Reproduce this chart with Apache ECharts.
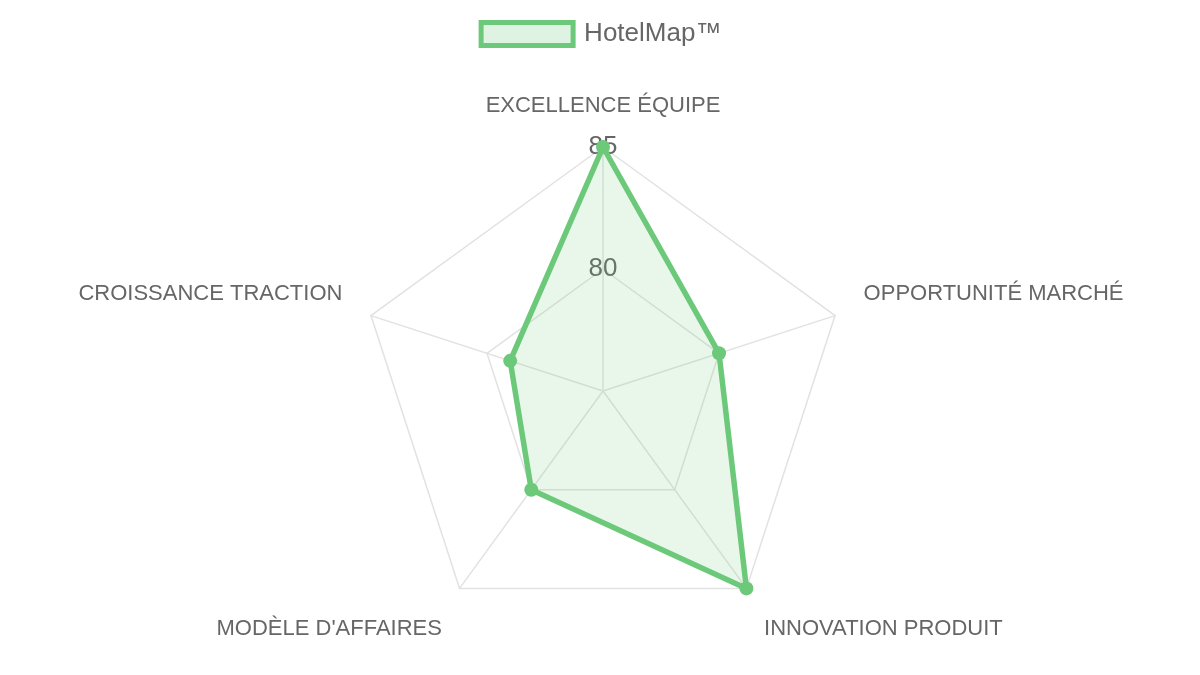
<!DOCTYPE html>
<html>
<head>
<meta charset="utf-8">
<script src="https://cdn.jsdelivr.net/npm/echarts@6/dist/echarts.min.js"></script>
<style>
html,body{margin:0;padding:0;background:#fff;}
#main{width:1200px;height:675px;}
</style>
</head>
<body>
<div id="main"></div>
<script>
// axes in echarts order: top first, then counter-clockwise
var categories = ['EXCELLENCE ÉQUIPE', 'CROISSANCE TRACTION', "MODÈLE D'AFFAIRES", 'INNOVATION PRODUIT', 'OPPORTUNITÉ MARCHÉ'];
var hotelmap = [85, 79, 80, 85, 80];
var seriesName = 'HotelMap™';
var scaleMin = 75, scaleMax = 85;

var green = '#6cc97a';
var greenFill = 'rgba(108,201,122,0.22)';
var labelKey = ['t', 's', 'b', 'b', 's']; // nudges the axis names like chart.js does

var indicator = categories.map(function (c, i) {
    var ind = { name: c, min: scaleMin, max: scaleMax };
    if (i === 0) {
        ind.axisLabel = {
            show: true,
            color: '#666',
            fontSize: 26,
            fontFamily: 'Liberation Sans',
            margin: 0,
            align: 'center',
            verticalAlign: 'middle',
            showMinLabel: false,
            formatter: function (v) { return v === scaleMin ? '' : v; }
        };
    }
    return ind;
});

var myChart = echarts.init(document.getElementById('main'));
var option = {
    animation: false,
    legend: {
        data: [seriesName],
        top: 15,
        left: 'center',
        icon: 'rect',
        itemWidth: 92,
        itemHeight: 23,
        itemStyle: { color: greenFill, borderColor: green, borderWidth: 5 },
        textStyle: { color: '#666', fontSize: 26, fontFamily: 'Liberation Sans', padding: [0, 0, 0, 6] }
    },
    radar: {
        center: [603, 391],
        radius: 244,
        shape: 'polygon',
        splitNumber: 2,
        startAngle: 90,
        axisName: {
            color: '#666',
            fontSize: 22,
            fontFamily: 'Liberation Sans',
            formatter: function (name) {
                var k = labelKey[categories.indexOf(name)];
                return '{' + k + '|' + name + '}';
            },
            rich: {
                t: { fontSize: 22, color: '#666', padding: [0, 0, 0, 0] },
                s: { fontSize: 22, color: '#666', padding: [0, 0, 24, 0] },
                b: { fontSize: 22, color: '#666', padding: [32, 0, 0, 0] }
            }
        },
        nameGap: 30,
        indicator: indicator,
        axisLine: { lineStyle: { color: '#e2e2e2', width: 1.5 } },
        splitLine: { lineStyle: { color: '#e2e2e2', width: 1.5 } },
        splitArea: { show: false },
        axisTick: { show: false },
        axisLabel: { show: false }
    },
    series: [{
        name: seriesName,
        type: 'radar',
        symbol: 'circle',
        symbolSize: 14,
        lineStyle: { color: green, width: 5.5 },
        itemStyle: { color: green },
        areaStyle: { color: greenFill },
        data: [{ value: hotelmap, name: seriesName }]
    }]
};
myChart.setOption(option);
</script>
</body>
</html>
